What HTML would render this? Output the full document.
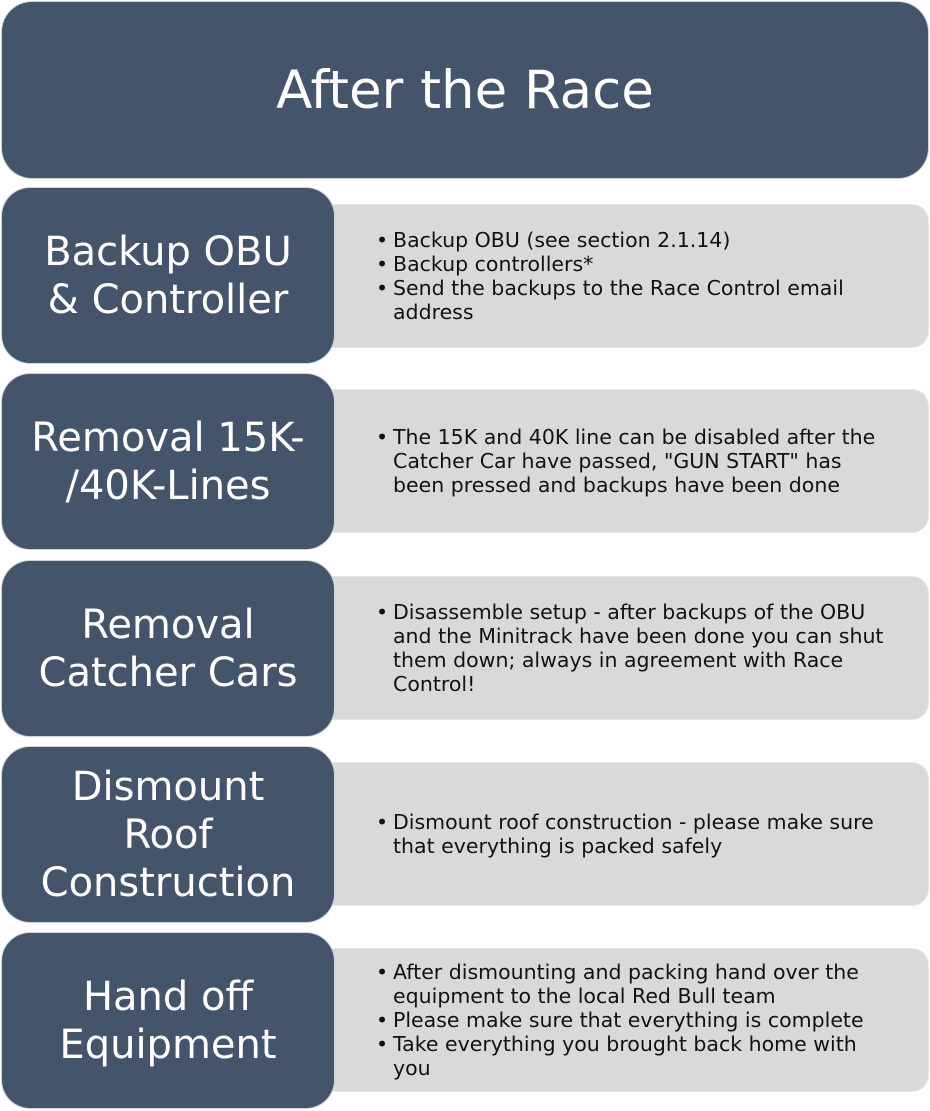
<!DOCTYPE html>
<html><head><meta charset="utf-8"><style>
body{margin:0;width:930px;height:1111px;background:#fff;position:relative;overflow:hidden;font-family:"DejaVu Sans","Liberation Sans",sans-serif}
.t{position:absolute;left:2px;top:2px;width:926px;height:176px;background:#44546a;border-radius:30px;color:#fff;font-size:53px;display:flex;align-items:center;justify-content:center;box-shadow:0 0 0 1px #d0d4da}
.l{position:absolute;left:2px;width:332px;height:175px;background:#44546a;border-radius:28px;color:#fff;font-size:40px;line-height:48px;display:flex;align-items:center;justify-content:center;text-align:center;z-index:2;box-shadow:0 0 0 1px #d0d4da}
.r{position:absolute;left:318px;width:610px;height:142px;background:#d9d9d9;border-radius:16px;color:#111;font-size:20.5px;line-height:24px;display:flex;align-items:center;box-sizing:border-box;padding-left:58px;padding-right:10px;box-shadow:0 0 0 1px #e8e8e8;white-space:nowrap}
ul{margin:0;padding:0;list-style:none}
li{position:relative;padding-left:17px}
li:before{content:"•";position:absolute;left:0}
</style></head><body>
<div class="t">After the Race</div>

<div class="l" style="top:188px">Backup OBU<br>&amp; Controller</div>
<div class="r" style="top:205px"><ul><li>Backup OBU (see section 2.1.14)</li><li>Backup controllers*</li><li>Send the backups to the Race Control email<br>address</li></ul></div>

<div class="l" style="top:374px">Removal 15K-<br>/40K-Lines</div>
<div class="r" style="top:390px"><ul><li>The 15K and 40K line can be disabled after the<br>Catcher Car have passed, "GUN START" has<br>been pressed and backups have been done</li></ul></div>

<div class="l" style="top:561px">Removal<br>Catcher Cars</div>
<div class="r" style="top:577px"><ul><li>Disassemble setup - after backups of the OBU<br>and the Minitrack have been done you can shut<br>them down; always in agreement with Race<br>Control!</li></ul></div>

<div class="l" style="top:747px">Dismount<br>Roof<br>Construction</div>
<div class="r" style="top:763px"><ul><li>Dismount roof construction - please make sure<br>that everything is packed safely</li></ul></div>

<div class="l" style="top:933px">Hand off<br>Equipment</div>
<div class="r" style="top:949px"><ul><li>After dismounting and packing hand over the<br>equipment to the local Red Bull team</li><li>Please make sure that everything is complete</li><li>Take everything you brought back home with<br>you</li></ul></div>
</body></html>
